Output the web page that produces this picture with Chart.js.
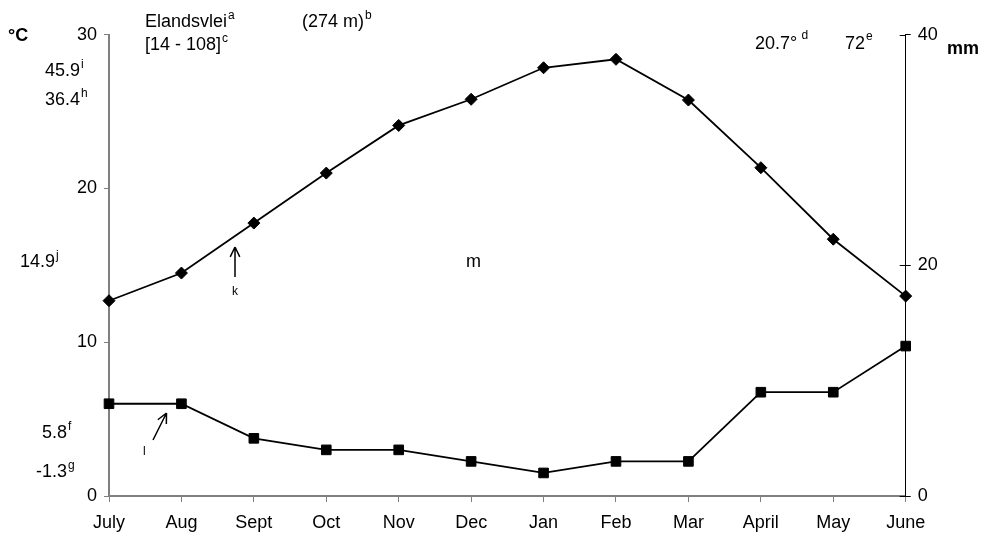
<!DOCTYPE html>
<html>
<head>
<meta charset="utf-8">
<script src="https://cdn.jsdelivr.net/npm/chart.js@4.4.1/dist/chart.umd.min.js"></script>
<style>
html,body{margin:0;padding:0;background:#fff;}
#wrap{position:relative;width:983px;height:537px;}
</style>
</head>
<body>
<div id="wrap"><canvas id="c" width="983" height="537"></canvas></div>
<script>
// ---- data ----
const months = ["July","Aug","Sept","Oct","Nov","Dec","Jan","Feb","Mar","April","May","June"];
const temperatureC = [12.7,14.5,17.75,21.0,24.1,25.8,27.85,28.4,25.75,21.35,16.7,13.0];
const rainfallMm = [8,8,5,4,4,3,2,3,3,9,9,13];
const tempTicks = [0,10,20,30];
const rainTicks = [0,20,40];

const FONT = '"Liberation Sans", Arial, sans-serif';

function txt(ctx, s, x, y, size, bold, sup, supDx, supDy) {
  ctx.font = (bold ? 'bold ' : '') + size + 'px ' + FONT;
  ctx.fillText(s, x, y);
  if (sup) {
    const w = ctx.measureText(s).width;
    ctx.font = '12px ' + FONT;
    ctx.fillText(sup, x + w + (supDx || 0), y - (supDy || 8));
  }
}
function arrow(ctx, x1, y1, x2, y2) {
  ctx.beginPath();
  ctx.moveTo(x1, y1); ctx.lineTo(x2, y2);
  const a = Math.atan2(y2 - y1, x2 - x1);
  const L = 11, sp = 0.45;
  ctx.moveTo(x2, y2); ctx.lineTo(x2 - L * Math.cos(a - sp), y2 - L * Math.sin(a - sp));
  ctx.moveTo(x2, y2); ctx.lineTo(x2 - L * Math.cos(a + sp), y2 - L * Math.sin(a + sp));
  ctx.stroke();
}

const annot = {
  id: 'annot',
  afterDraw(chart) {
    const ctx = chart.ctx;
    ctx.save();
    // crossing inner ticks on right axis
    const y1 = chart.scales.y1;
    ctx.strokeStyle = '#000'; ctx.lineWidth = 1;
    rainTicks.forEach(v => {
      const py = Math.round(y1.getPixelForValue(v)) + 0.5;
      ctx.beginPath(); ctx.moveTo(y1.left - 6, py); ctx.lineTo(y1.left, py); ctx.stroke();
    });
    ctx.fillStyle = '#000';
    ctx.textBaseline = 'alphabetic';
    ctx.textAlign = 'left';
    txt(ctx, '°C', 8, 41, 18, true);
    txt(ctx, 'Elandsvlei', 145, 27, 18, false, 'a', 1, 8);
    txt(ctx, '(274 m)', 302, 27, 18, false, 'b', 1, 8);
    txt(ctx, '[14 - 108]', 145, 50, 18, false, 'c', 1, 8);
    txt(ctx, '45.9', 45, 76, 18, false, 'i', 1, 8);
    txt(ctx, '36.4', 45, 105, 18, false, 'h', 1, 8);
    txt(ctx, '14.9', 20, 267, 18, false, 'j', 1, 8);
    txt(ctx, '5.8', 42, 438, 18, false, 'f', 1, 8);
    txt(ctx, '-1.3', 36, 477, 18, false, 'g', 1, 8);
    txt(ctx, 'm', 466, 267, 18, false);
    txt(ctx, '20.7°', 755, 49, 18, false, ' d', 1, 10);
    txt(ctx, '72', 845, 49, 18, false, 'e', 1, 9);
    txt(ctx, 'mm', 947, 54, 18, true);
    ctx.font = '12px ' + FONT;
    ctx.fillText('k', 232, 295);
    ctx.fillText('l', 143, 455);
    ctx.lineWidth = 1.5;
    arrow(ctx, 235, 277, 235, 247);
    arrow(ctx, 153, 440, 166.5, 413);
    ctx.restore();
  }
};

new Chart(document.getElementById('c'), {
  type: 'line',
  data: {
    labels: months,
    datasets: [
      {
        label: 'Temperature',
        data: temperatureC,
        yAxisID: 'y',
        borderColor: '#000',
        backgroundColor: '#000',
        borderWidth: 1.8,
        pointStyle: 'rectRot',
        pointRadius: 6,
        pointBorderWidth: 1,
        tension: 0,
        clip: false
      },
      {
        label: 'Rainfall',
        data: rainfallMm,
        yAxisID: 'y1',
        borderColor: '#000',
        backgroundColor: '#000',
        borderWidth: 1.8,
        pointStyle: 'rect',
        pointRadius: 6.8,
        pointBorderWidth: 1,
        tension: 0,
        clip: false
      }
    ]
  },
  options: {
    responsive: false,
    animation: false,
    layout: { padding: { left: 0, right: 0, top: 34.7, bottom: 0 } },
    plugins: { legend: { display: false }, tooltip: { enabled: false } },
    scales: {
      x: {
        type: 'category',
        offset: false,
        grid: { drawOnChartArea: false, drawTicks: true, tickLength: 6, color: '#808080', lineWidth: 1 },
        border: { color: '#808080', width: 2 },
        ticks: { color: '#000', font: { family: FONT, size: 18 }, padding: 10, maxRotation: 0, autoSkip: false },
        afterFit(s) { s.height = 41; }
      },
      y: {
        position: 'left',
        min: 0, max: 30,
        afterBuildTicks(s) { s.ticks = tempTicks.map(v => ({ value: v })); },
        grid: { drawOnChartArea: false, drawTicks: true, tickLength: 5, color: '#808080' },
        border: { color: '#808080', width: 2 },
        ticks: { color: '#000', font: { family: FONT, size: 18 }, padding: 7 },
        afterFit(s) { s.width = 109; }
      },
      y1: {
        position: 'right',
        min: 0, max: 40,
        afterBuildTicks(s) { s.ticks = rainTicks.map(v => ({ value: v })); },
        grid: { drawOnChartArea: false, drawTicks: true, tickLength: 5, color: '#000' },
        border: { color: '#000', width: 1 },
        ticks: { color: '#000', font: { family: FONT, size: 18 }, padding: 7 },
        afterFit(s) { s.width = 77.3; }
      }
    }
  },
  plugins: [annot]
});
</script>
</body>
</html>
